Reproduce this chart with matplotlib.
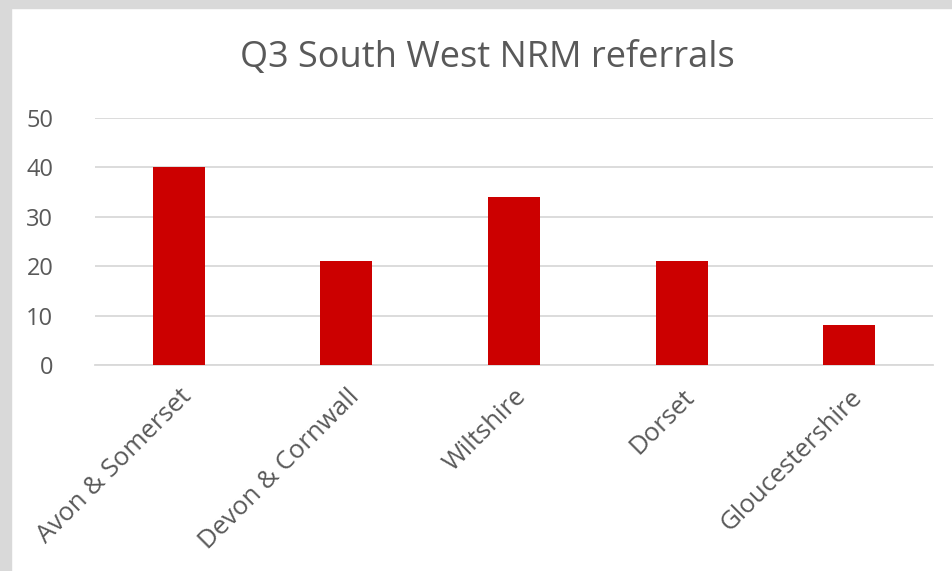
import matplotlib
matplotlib.use("Agg")
import matplotlib.pyplot as plt
from matplotlib.patches import Rectangle

regions = ["Avon & Somerset", "Devon & Cornwall", "Wiltshire", "Dorset", "Gloucestershire"]
referrals = [40, 21, 34, 21, 8]
yticks = [0, 10, 20, 30, 40, 50]

plt.rcParams['font.family'] = ['Open Sans', 'DejaVu Sans']
text_col = "#595959"
W, H = 953, 571

fig = plt.figure(figsize=(W / 100, H / 100), dpi=100)
# grey frame at top and left, like the screenshot
fig.patches.append(Rectangle((0, 0), 11 / W, 1, transform=fig.transFigure,
                             color="#d9d9d9", zorder=-1))
fig.patches.append(Rectangle((0, 1 - 8 / H), 1, 8 / H, transform=fig.transFigure,
                             color="#d9d9d9", zorder=-1))

ax = fig.add_axes([95 / W, 206 / H, 838 / W, 247 / H])
x = range(len(regions))
ax.bar(x, referrals, width=0.31, color="#cc0000", zorder=3)
ax.set_xlim(-0.5, len(regions) - 0.5)
ax.set_ylim(0, 50)
ax.set_yticks(yticks)
ax.grid(axis="y", color="#d9d9d9", linewidth=1.3, zorder=0)
for s in ["top", "right", "left"]:
    ax.spines[s].set_visible(False)
ax.spines["bottom"].set_color("#d9d9d9")
ax.spines["bottom"].set_linewidth(1.3)
ax.tick_params(length=0, colors=text_col, labelsize=17)
ax.tick_params(axis="y", pad=30)
ax.set_xticks(list(x))
ax.set_xticklabels(regions, rotation=45, ha="right", rotation_mode="anchor",
                   fontsize=18.5, color=text_col)
ax.tick_params(axis="x", pad=14)

fig.text(487 / W, 1 - 58 / H, "Q3 South West NRM referrals", ha="center", va="center",
         fontsize=26, color=text_col)

fig.savefig("out.png", dpi=100)
